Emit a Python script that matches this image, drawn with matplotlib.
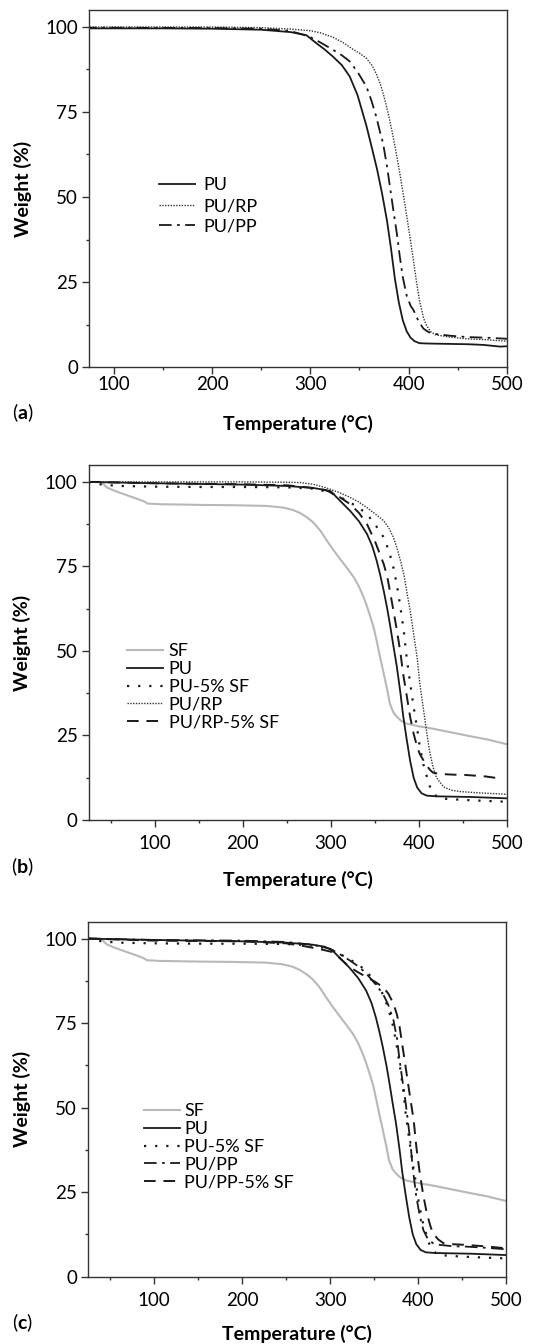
import matplotlib
matplotlib.use("Agg")
import matplotlib.pyplot as plt
from matplotlib.ticker import MultipleLocator

plt.rcParams['font.family'] = ['Lato', 'DejaVu Sans']
plt.rcParams['mathtext.fontset'] = 'custom'
plt.rcParams['mathtext.rm'] = 'Lato'
plt.rcParams['mathtext.bf'] = 'Lato:bold'

# ---- panel (a) data ----
a_pu_t = [70, 150, 200, 250, 280, 296, 305, 315, 323, 332, 340, 348, 357, 363, 368, 373, 378, 382,
          386, 390, 394, 398, 402, 406, 411, 420, 440, 460, 476, 493, 500]
a_pu_w = [99.6, 99.6, 99.5, 99.2, 98.5, 97.6, 95.5, 93.3, 91.3, 88.8, 85.5, 80, 71, 64, 58, 51, 43, 35,
          26, 19, 13.8, 10.5, 8.6, 7.6, 7.0, 6.9, 6.8, 6.7, 6.5, 6.0, 6.1]

a_rp_t = [70, 200, 250, 280, 300, 310, 323, 333, 343, 350, 357, 363, 367, 371, 375, 379, 383, 387,
          391, 395, 398, 402, 405, 408, 411, 415, 418, 422, 427, 433, 442, 459, 480, 500]
a_rp_w = [100, 100, 99.8, 99.4, 98.9, 98.3, 97.0, 95.5, 93.5, 92.3, 90.8, 88.6, 86.3, 83.4, 79.5, 74.8, 69.5, 63.5,
          57, 50, 44.5, 37, 31, 25, 19.6, 14.5, 12.3, 10.5, 9.5, 9.2, 8.8, 8.3, 8.0, 7.6]

a_pp_t = [70, 200, 250, 280, 299, 310, 323, 332, 340, 348, 357, 362, 367, 371, 374, 378, 381, 385,
          388, 391, 394, 398, 402, 405, 410, 415, 420, 425, 442, 460, 480, 500]
a_pp_w = [99.8, 99.7, 99.5, 98.8, 97.2, 95.5, 93.3, 91.7, 89.9, 86.8, 82.5, 78.5, 73.7, 69, 65.8, 59, 53, 45,
          39.3, 32.5, 26.5, 21, 18, 16.7, 13.5, 11.3, 10.3, 9.8, 9.2, 8.8, 8.6, 8.3]

# ---- shared samples for panels (b) and (c) ----
sf_t = [25, 38, 42, 46, 55, 69, 80, 88, 92, 106, 130, 152, 190, 227, 246, 257, 265, 273, 280, 288,
        295, 303, 311, 319, 326, 332, 337, 341, 345, 349, 352, 356, 360, 364, 367, 371, 375, 380,
        386, 400, 416, 435, 454, 478, 500]
sf_w = [100, 100, 99.3, 98.3, 97.3, 96.0, 95.0, 94.2, 93.6, 93.4, 93.3, 93.2, 93.1, 92.9, 92.4, 91.7,
        90.8, 89.5, 88.0, 85.6, 82.8, 79.8, 77.0, 74.3, 71.8, 69.0, 66.0, 63.2, 60.0, 56.5, 53.0, 48.0,
        43.3, 38.5, 34.4, 31.8, 30.5, 29.3, 28.5, 27.7, 27.0, 26.0, 25.0, 23.8, 22.4]

pu_t = [25, 60, 100, 150, 200, 250, 280, 294, 303, 312, 322, 332, 341, 347, 352, 356, 360, 364, 367,
        371, 375, 379, 382, 386, 390, 394, 398, 403, 409, 420, 440, 460, 480, 500]
pu_w = [100, 99.8, 99.6, 99.4, 99.2, 98.8, 98.2, 97.6, 96.4, 94, 91.4, 88.3, 84.6, 81, 76.7, 72.5, 67.8,
        62.5, 58, 51.5, 45.2, 37.5, 31, 24, 17.5, 12.5, 9.6, 7.9, 7.2, 7.0, 6.9, 6.8, 6.6, 6.4]

pusf_t = [25, 40, 60, 100, 150, 200, 250, 280, 299, 310, 322, 332, 341, 350, 360, 366, 371, 375, 379,
          383, 386, 390, 394, 398, 401, 405, 409, 412, 415, 420, 424, 440, 454, 480, 500]
pusf_w = [100, 99.2, 98.8, 98.6, 98.5, 98.5, 98.4, 98.0, 96.9, 95.6, 93.9, 92.3, 90.5, 87.5, 83.6, 79.5,
          74.7, 69.5, 62.9, 55.5, 48.2, 40.5, 33.4, 27, 21.6, 16.5, 12.8, 10.2, 8.4, 7.0, 6.4, 6.1, 5.9,
          5.6, 5.4]

# ---- panel (b) ----
rp_t = [25, 100, 200, 250, 265, 280, 294, 308, 322, 332, 341, 350, 360, 366, 371, 375, 379, 383, 386,
        390, 394, 398, 401, 405, 409, 412, 416, 420, 428, 437, 447, 470, 500]
rp_w = [100, 100, 100, 99.9, 99.8, 99.3, 98.3, 97.0, 95.4, 94, 92.4, 90.6, 88.5, 86.3, 83.6, 80.5, 76.7,
        72.5, 67.8, 62, 55, 48, 40.3, 33, 25.6, 20.5, 15.7, 12.5, 9.8, 8.8, 8.4, 8.0, 7.6]

rpsf_t = [25, 100, 200, 250, 280, 299, 310, 322, 332, 341, 350, 360, 364, 367, 371, 375, 379, 382, 386,
          390, 394, 398, 401, 405, 409, 413, 416, 425, 440, 454, 475, 492]
rpsf_w = [100, 99.6, 99.3, 99, 98.2, 97.3, 95.5, 93.4, 90.8, 87.5, 82.5, 75.7, 72, 67.8, 62, 56, 49.5,
          43.3, 37, 30.5, 25.5, 21.6, 19.5, 17.7, 16, 14.7, 14.0, 13.6, 13.4, 13.3, 12.9, 12.3]

# ---- panel (c) ----
pp_t = [25, 100, 200, 250, 280, 300, 311, 322, 332, 341, 350, 360, 366, 372, 376, 379, 382, 385, 388,
        391, 394, 398, 402, 406, 411, 417, 425, 440, 455, 480, 500]
pp_w = [100, 99.6, 99.4, 99.0, 98.2, 97.0, 95.4, 93.6, 91.8, 89.7, 87.0, 83.7, 80.5, 75.9, 70.5, 64,
        58.5, 53.2, 47, 40.4, 32, 23.6, 18, 13.8, 11.2, 9.9, 9.4, 9.0, 8.9, 8.5, 8.1]

ppsf_t = [25, 100, 200, 250, 270, 290, 303, 312, 322, 332, 341, 350, 360, 366, 372, 376, 379, 383, 387,
          391, 395, 398, 402, 406, 410, 414, 417, 423, 429, 440, 455, 480, 500]
ppsf_w = [100, 99.4, 99.2, 98.6, 97.8, 96.8, 96.0, 94.0, 91.6, 90.0, 88.7, 87.4, 85.7, 83.8, 80.8, 77.5,
          73.9, 67, 60, 53, 46.3, 38.5, 30.5, 24, 18.7, 15, 12.8, 11, 9.9, 9.6, 9.4, 8.9, 8.4]

BLACK = '#1a1a1a'
GREY = '#b8b8b8'
STYLES = {
    'SF': dict(color=GREY, lw=1.5, ls='-'),
    'PU': dict(color=BLACK, lw=1.3, ls='-'),
    'PU-5% SF': dict(color=BLACK, lw=1.6, ls=(0, (1, 4))),
    'PU/RP': dict(color='#333333', lw=1.0, ls=(0, (1, 1))),
    'PU/RP-5% SF': dict(color=BLACK, lw=1.4, ls=(0, (6, 4))),
    'PU/PP': dict(color=BLACK, lw=1.3, ls=(0, (7, 3, 1.5, 3))),
    'PU/PP-5% SF': dict(color=BLACK, lw=1.4, ls=(0, (6, 4))),
}

W, H = 548, 1344
TICK_FS = 13.5
LABEL_FS = 14
LEGEND_FS = 13


def style_axes(ax, xmin, xpad):
    ax.set_xlim(xmin, 500)
    ax.set_ylim(0, 105)
    ax.xaxis.set_major_locator(MultipleLocator(100))
    ax.xaxis.set_minor_locator(MultipleLocator(50))
    ax.yaxis.set_major_locator(MultipleLocator(25))
    ax.yaxis.set_minor_locator(MultipleLocator(12.5))
    ax.tick_params(which='both', direction='out', color='#333333', width=1.0, labelsize=TICK_FS,
                   top=False, right=False)
    ax.tick_params(which='major', length=5)
    ax.tick_params(which='minor', length=2.5)
    ax.tick_params(axis='x', pad=xpad)
    ax.tick_params(axis='y', pad=3)
    for s in ax.spines.values():
        s.set_color('#333333')
        s.set_linewidth(1.0)


def add_labels(ax, letter, ax_top, ax_bot, letter_y, temp_y):
    hpx = ax_bot - ax_top
    ax.set_ylabel('Weight (%)', fontsize=LABEL_FS, fontweight='bold', va='center')
    ax.yaxis.set_label_coords(-(89 - 22.5) / 418, 0.5)
    ax.set_xlabel('Temperature (°C)', fontsize=LABEL_FS, fontweight='bold', va='center')
    ax.xaxis.set_label_coords(0.5, -(temp_y - ax_bot) / hpx)
    fig.text(22.5 / W, 1 - letter_y / H, r'($\mathbf{%s}$)' % letter, fontsize=LABEL_FS,
             ha='center', va='center')


def rect(left, top, right, bottom):
    return [left / W, 1 - bottom / H, (right - left) / W, (bottom - top) / H]


fig = plt.figure(figsize=(W / 100, H / 100), dpi=100)

# (a)
ax = fig.add_axes(rect(89, 10, 507, 367))
ax.plot(a_pu_t, a_pu_w, label='PU', **STYLES['PU'])
ax.plot(a_rp_t, a_rp_w, label='PU/RP', **STYLES['PU/RP'])
ax.plot(a_pp_t, a_pp_w, label='PU/PP', **STYLES['PU/PP'])
style_axes(ax, 75, 1.5)
add_labels(ax, 'a', 10, 367, 413, 424)
ax.legend(loc='center left', bbox_to_anchor=(0.167, 1 - (206 - 10) / 357), frameon=False,
          fontsize=LEGEND_FS, handlelength=2.0, handletextpad=0.45, labelspacing=0.25,
          borderpad=0, borderaxespad=0)

# (b)
ax = fig.add_axes(rect(88.7, 465, 507, 820))
ax.plot(sf_t, sf_w, label='SF', **STYLES['SF'])
ax.plot(pu_t, pu_w, label='PU', **STYLES['PU'])
ax.plot(pusf_t, pusf_w, label='PU-5% SF', **STYLES['PU-5% SF'])
ax.plot(rp_t, rp_w, label='PU/RP', **STYLES['PU/RP'])
ax.plot(rpsf_t, rpsf_w, label='PU/RP-5% SF', **STYLES['PU/RP-5% SF'])
style_axes(ax, 25, 6)
add_labels(ax, 'b', 465, 820, 867, 880)
ax.legend(loc='center left', bbox_to_anchor=(0.0916, 1 - (687 - 465) / 355), frameon=False,
          fontsize=LEGEND_FS, handlelength=2.0, handletextpad=0.3, labelspacing=0.1,
          borderpad=0, borderaxespad=0)

# (c)
ax = fig.add_axes(rect(88.3, 921.7, 506, 1276.7))
ax.plot(sf_t, sf_w, label='SF', **STYLES['SF'])
ax.plot(pu_t, pu_w, label='PU', **STYLES['PU'])
ax.plot(pusf_t, pusf_w, label='PU-5% SF', **STYLES['PU-5% SF'])
ax.plot(pp_t, pp_w, label='PU/PP', **STYLES['PU/PP'])
ax.plot(ppsf_t, ppsf_w, label='PU/PP-5% SF', **STYLES['PU/PP-5% SF'])
style_axes(ax, 25, 6)
add_labels(ax, 'c', 921.7, 1276.7, 1323, 1334)
ax.legend(loc='center left', bbox_to_anchor=(0.133, 1 - (1147 - 921.7) / 355), frameon=False,
          fontsize=LEGEND_FS, handlelength=2.0, handletextpad=0.25, labelspacing=0.1,
          borderpad=0, borderaxespad=0)

fig.savefig('out.png', dpi=100)
